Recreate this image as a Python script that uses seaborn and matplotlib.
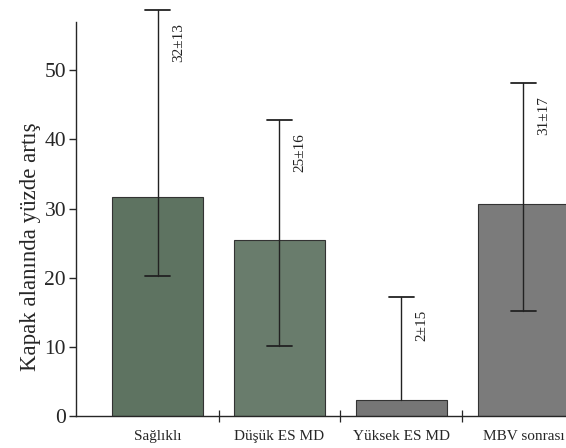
import numpy as np
import pandas as pd
import matplotlib
matplotlib.use("Agg")
import matplotlib.pyplot as plt
import seaborn as sns

# values
groups = ["Sağlıklı", "Düşük ES MD", "Yüksek ES MD", "MBV sonrası"]
means = [31.7, 25.4, 2.3, 30.7]
whisker_hi = [58.7, 42.8, 17.2, 48.1]
whisker_lo = [20.3, 10.1, 2.3, 15.2]
labels = ["32±13", "25±16", "2±15", "31±17"]
bar_colors = ["#5a765e", "#667f6a", "#767676", "#7b7b7b"]

sns.set_style("ticks")
plt.rcParams["font.family"] = ["Liberation Serif", "DejaVu Serif"]

df = pd.DataFrame({"grup": groups, "artis": means})

fig = plt.figure(figsize=(5.66, 4.48), dpi=100)
ax = fig.add_axes([0.134, 0.0714, 0.866, 0.880])

sns.barplot(data=df, x="grup", y="artis", hue="grup", palette=bar_colors,
            errorbar=None, width=0.75, edgecolor="#333333", linewidth=0.8,
            legend=False, ax=ax)

# asymmetric whiskers (only caps where the picture has them)
x = np.arange(len(groups))
for i in range(len(groups)):
    ax.plot([x[i], x[i]], [whisker_lo[i], whisker_hi[i]], color="#222222",
            lw=1.0, clip_on=False, zorder=3)
    ax.plot([x[i] - 0.1, x[i] + 0.1], [whisker_hi[i]] * 2, color="#222222",
            lw=1.3, clip_on=False, zorder=3)
    if whisker_lo[i] < means[i]:
        ax.plot([x[i] - 0.1, x[i] + 0.1], [whisker_lo[i]] * 2,
                color="#222222", lw=1.3, clip_on=False, zorder=3)
    ax.text(x[i] + 0.17, whisker_hi[i] - 1.9, labels[i], rotation=90,
            ha="center", va="top", fontsize=11, color="#222222")

ax.set_xlim(-0.67, 3.35)
ax.set_ylim(0, 57)
ax.set_yticks([0, 10, 20, 30, 40, 50])
ax.tick_params(axis="y", labelsize=15.5, length=5, width=1, direction="out",
               pad=2)
ax.tick_params(axis="x", which="major", length=0, labelsize=11, pad=10)
ax.set_xticks([0.5, 1.5, 2.5], minor=True)
ax.tick_params(axis="x", which="minor", length=8, width=0.9, direction="inout")

ax.set_xlabel("")
ax.set_ylabel("Kapak alanında yüzde artış", fontsize=16.5)
ax.yaxis.set_label_coords(-0.072, 0.43)
sns.despine(ax=ax)
ax.spines["left"].set_linewidth(1)
ax.spines["bottom"].set_linewidth(1)

fig.savefig("out.png", dpi=100)
